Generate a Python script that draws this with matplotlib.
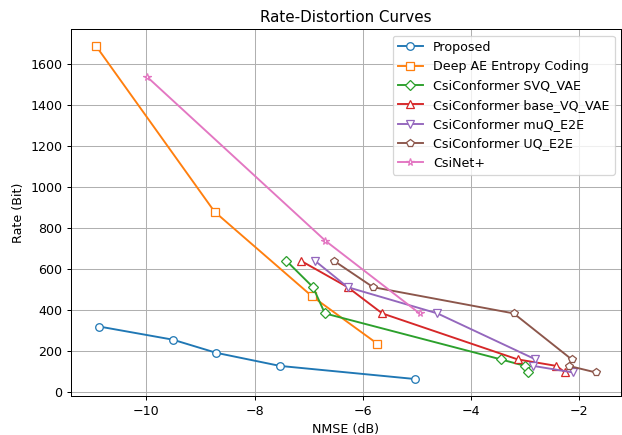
import numpy as np
import matplotlib
matplotlib.use('Agg')
import matplotlib.pyplot as plt

# NMSE (dB) and rate (bits)
prop_x = [-10.87, -9.51, -8.71, -7.53, -5.03]
prop_y = [320, 256, 192, 128, 64]

deep_x = [-10.93, -8.74, -6.94, -5.73]
deep_y = [1688, 880, 468, 236]

svq_x = [-7.41, -6.92, -6.70, -3.45, -3.00, -2.94]
svq_y = [640, 512, 384, 160, 128, 96]

base_x = [-7.14, -6.28, -5.64, -3.14, -2.42, -2.26]
base_y = [640, 512, 384, 160, 128, 96]

muq_x = [-6.88, -6.28, -4.62, -2.81, -2.85, -2.11]
muq_y = [640, 512, 384, 160, 128, 96]

uq_x = [-6.53, -5.81, -3.21, -2.14, -2.19, -1.69]
uq_y = [640, 512, 384, 160, 128, 96]

csinet_x = [-9.98, -6.69, -4.95]
csinet_y = [1536, 738, 384]

DPI = 91
fig = plt.figure(figsize=(622/DPI, 435/DPI), dpi=DPI)
ax = fig.add_axes([71/622, 39.3/435, 550/622, 366.4/435])

ax.plot(prop_x, prop_y, marker='o', mfc='white', label='Proposed')
ax.plot(deep_x, deep_y, marker='s', mfc='white', label='Deep AE Entropy Coding')
ax.plot(svq_x, svq_y, marker='D', mfc='white', label='CsiConformer SVQ_VAE')
ax.plot(base_x, base_y, marker='^', mfc='white', label='CsiConformer base_VQ_VAE')
ax.plot(muq_x, muq_y, marker='v', mfc='white', label='CsiConformer muQ_E2E')
ax.plot(uq_x, uq_y, marker='p', mfc='white', label='CsiConformer UQ_E2E')
ax.plot(csinet_x, csinet_y, marker='*', mfc='white', label='CsiNet+')

ax.set_title('Rate-Distortion Curves')
ax.set_xlabel('NMSE (dB)')
ax.set_ylabel('Rate (Bit)')
ax.grid(True)
ax.legend(loc='upper right')

fig.savefig('out.png', dpi=DPI)
